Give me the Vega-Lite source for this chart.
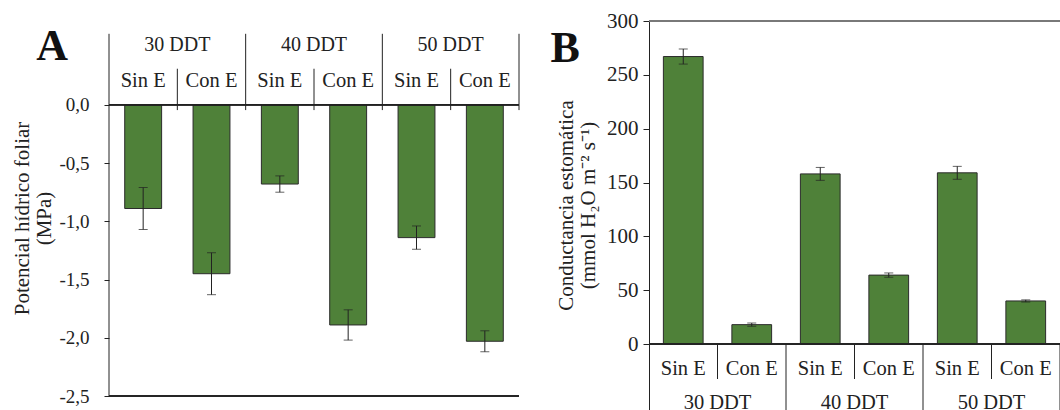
{
  "$schema": "https://vega.github.io/schema/vega-lite/v6.json",
  "background": "white",
  "padding": {"left": 11, "top": 10, "right": 0, "bottom": 0},
  "spacing": 30,
  "datasets": {
    "a": [
      {"ddt": "30 DDT", "trat": "Sin E", "key": "30 DDT|Sin E", "value": -0.89, "err": 0.18},
      {"ddt": "30 DDT", "trat": "Con E", "key": "30 DDT|Con E", "value": -1.45, "err": 0.18},
      {"ddt": "40 DDT", "trat": "Sin E", "key": "40 DDT|Sin E", "value": -0.68, "err": 0.07},
      {"ddt": "40 DDT", "trat": "Con E", "key": "40 DDT|Con E", "value": -1.89, "err": 0.13},
      {"ddt": "50 DDT", "trat": "Sin E", "key": "50 DDT|Sin E", "value": -1.14, "err": 0.10},
      {"ddt": "50 DDT", "trat": "Con E", "key": "50 DDT|Con E", "value": -2.03, "err": 0.09}
    ],
    "b": [
      {"ddt": "30 DDT", "trat": "Sin E", "key": "30 DDT|Sin E", "value": 267, "err": 7},
      {"ddt": "30 DDT", "trat": "Con E", "key": "30 DDT|Con E", "value": 18, "err": 1.5},
      {"ddt": "40 DDT", "trat": "Sin E", "key": "40 DDT|Sin E", "value": 158, "err": 6},
      {"ddt": "40 DDT", "trat": "Con E", "key": "40 DDT|Con E", "value": 64, "err": 2},
      {"ddt": "50 DDT", "trat": "Sin E", "key": "50 DDT|Sin E", "value": 159, "err": 6},
      {"ddt": "50 DDT", "trat": "Con E", "key": "50 DDT|Con E", "value": 40, "err": 1}
    ],
    "letters": [{"panel": "A"}, {"panel": "B"}]
  },
  "hconcat": [
    {
      "width": 410,
      "height": 375,
      "data": {"name": "a"},
      "layer": [
        {
          "mark": {"type": "bar", "color": "#4f8139", "stroke": "#2b2b2b", "strokeWidth": 1, "width": {"band": 0.54}},
          "encoding": {
            "x": {"field": "key", "type": "nominal", "axis": null,
                  "scale": {"domain": ["30 DDT|Sin E", "30 DDT|Con E", "40 DDT|Sin E", "40 DDT|Con E", "50 DDT|Sin E", "50 DDT|Con E"], "paddingInner": 0, "paddingOuter": 0}},
            "y": {"field": "value", "type": "quantitative", "title": ["Potencial hídrico foliar", "(MPa)"],
                  "scale": {"domain": [-2.5, 0.72], "nice": false, "zero": false},
                  "axis": {"values": [0, -0.5, -1, -1.5, -2, -2.5],
                           "labelExpr": "replace(replace(format(datum.value, '.1f'), '.', ','), '\u2212', '-')",
                           "domain": false, "tickSize": 5, "labelPadding": 15, "labelFontSize": 19,
                           "titleX": -77, "titleY": 197}}
          }
        },
        {
          "mark": {"type": "errorbar", "ticks": {"size": 9}, "color": "#222", "thickness": 1},
          "encoding": {
            "x": {"field": "key", "type": "nominal"},
            "y": {"field": "value", "type": "quantitative", "title": ["Potencial hídrico foliar", "(MPa)"]},
            "yError": {"field": "err"}
          }
        },
        {"mark": {"type": "rule", "color": "#222"}, "encoding": {"y": {"datum": 0}}},
        {"mark": {"type": "rule", "color": "#222"}, "encoding": {"y": {"datum": -2.5}}},
        {
          "transform": [{"filter": "datum.key == '30 DDT|Sin E'"}],
          "mark": {"type": "rule", "color": "#222"},
          "encoding": {"x": {"field": "key", "type": "nominal", "bandPosition": 0}, "y": {"datum": -2.5}, "y2": {"datum": 0.61}}
        },
        {
          "transform": [{"filter": "datum.trat == 'Con E'"}],
          "mark": {"type": "rule", "color": "#222"},
          "encoding": {"x": {"field": "key", "type": "nominal", "bandPosition": 1}, "y": {"datum": -0.045}, "y2": {"datum": 0.61}}
        },
        {
          "transform": [{"filter": "datum.trat == 'Sin E'"}],
          "mark": {"type": "rule", "color": "#222"},
          "encoding": {"x": {"field": "key", "type": "nominal", "bandPosition": 1}, "y": {"datum": -0.045}, "y2": {"datum": 0.31}}
        },
        {
          "mark": {"type": "text", "font": "Liberation Serif", "fontSize": 20.5, "color": "#222", "baseline": "middle"},
          "encoding": {"x": {"field": "key", "type": "nominal"}, "y": {"datum": 0.206}, "text": {"field": "trat"}}
        },
        {
          "transform": [{"filter": "datum.trat == 'Sin E'"}],
          "mark": {"type": "text", "font": "Liberation Serif", "fontSize": 20, "color": "#222", "baseline": "middle"},
          "encoding": {"x": {"field": "key", "type": "nominal", "bandPosition": 1}, "y": {"datum": 0.515}, "text": {"field": "ddt"}}
        },
        {
          "data": {"name": "letters"},
          "transform": [{"filter": "datum.panel == 'A'"}],
          "mark": {"type": "text", "font": "Liberation Serif", "fontSize": 44, "fontWeight": "bold", "color": "#111", "baseline": "alphabetic", "dx": -91},
          "encoding": {"x": {"datum": "30 DDT|Sin E"}, "y": {"datum": 0.387}, "text": {"field": "panel"}}
        }
      ]
    },
    {
      "width": 411,
      "height": 393,
      "data": {"name": "b"},
      "layer": [
        {
          "mark": {"type": "bar", "color": "#4f8139", "stroke": "#2b2b2b", "strokeWidth": 1, "width": {"band": 0.58}},
          "encoding": {
            "x": {"field": "key", "type": "nominal", "axis": null,
                  "scale": {"domain": ["30 DDT|Sin E", "30 DDT|Con E", "40 DDT|Sin E", "40 DDT|Con E", "50 DDT|Sin E", "50 DDT|Con E"], "paddingInner": 0, "paddingOuter": 0}},
            "y": {"field": "value", "type": "quantitative", "title": ["Conductancia  estomática", "(mmol H₂O m⁻² s⁻¹)"],
                  "scale": {"domain": [-65, 300], "nice": false, "zero": false},
                  "axis": {"values": [0, 50, 100, 150, 200, 250, 300],
                           "domain": true, "tickSize": 6, "labelPadding": 5, "labelFontSize": 21,
                           "titleX": -73, "titleY": 184}}
          }
        },
        {
          "mark": {"type": "errorbar", "ticks": {"size": 9}, "color": "#222", "thickness": 1},
          "encoding": {
            "x": {"field": "key", "type": "nominal"},
            "y": {"field": "value", "type": "quantitative", "title": ["Conductancia  estomática", "(mmol H₂O m⁻² s⁻¹)"]},
            "yError": {"field": "err"}
          }
        },
        {"mark": {"type": "rule", "color": "#222"}, "encoding": {"y": {"datum": 0}}},
        {"mark": {"type": "rule", "color": "#7a7a7a", "strokeWidth": 1.5}, "encoding": {"y": {"datum": 300}}},
        {
          "transform": [{"filter": "datum.trat == 'Con E'"}],
          "mark": {"type": "rule", "color": "#222"},
          "encoding": {"x": {"field": "key", "type": "nominal", "bandPosition": 1}, "y": {"datum": 0}, "y2": {"datum": -65}}
        },
        {
          "transform": [{"filter": "datum.trat == 'Sin E'"}],
          "mark": {"type": "rule", "color": "#222"},
          "encoding": {"x": {"field": "key", "type": "nominal", "bandPosition": 1}, "y": {"datum": 0}, "y2": {"datum": -32.5}}
        },
        {
          "mark": {"type": "text", "font": "Liberation Serif", "fontSize": 20.5, "color": "#222", "baseline": "middle"},
          "encoding": {"x": {"field": "key", "type": "nominal"}, "y": {"datum": -23.2}, "text": {"field": "trat"}}
        },
        {
          "transform": [{"filter": "datum.trat == 'Sin E'"}],
          "mark": {"type": "text", "font": "Liberation Serif", "fontSize": 20.5, "color": "#222", "baseline": "middle"},
          "encoding": {"x": {"field": "key", "type": "nominal", "bandPosition": 1}, "y": {"datum": -54.5}, "text": {"field": "ddt"}}
        },
        {
          "data": {"name": "letters"},
          "transform": [{"filter": "datum.panel == 'B'"}],
          "mark": {"type": "text", "font": "Liberation Serif", "fontSize": 44, "fontWeight": "bold", "color": "#111", "baseline": "alphabetic", "dx": -118},
          "encoding": {"x": {"datum": "30 DDT|Sin E"}, "y": {"datum": 262}, "text": {"field": "panel"}}
        }
      ]
    }
  ],
  "config": {
    "view": {"stroke": null},
    "axis": {
      "grid": false,
      "labelFont": "Liberation Serif", "labelFontSize": 19, "labelColor": "#222",
      "titleFont": "Liberation Serif", "titleFontSize": 21, "titleFontWeight": "normal", "titleColor": "#222",
      "titleLineHeight": 22,
      "tickColor": "#222", "domainColor": "#222"
    }
  }
}
